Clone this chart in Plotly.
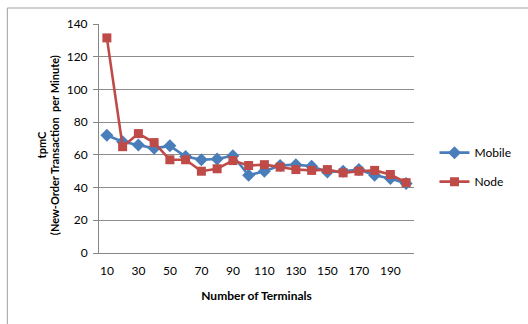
import plotly.graph_objects as go

# Throughput (tpmC) against number of terminals
terminals = [10, 20, 30, 40, 50, 60, 70, 80, 90, 100,
             110, 120, 130, 140, 150, 160, 170, 180, 190, 200]
mobile = [72, 68, 66, 64, 65.5, 59, 57, 57.5, 59.5, 47.5,
          50, 53.5, 54, 53, 49.5, 50, 51, 47.5, 45.5, 42.5]
node = [131.5, 65, 73, 67.5, 57, 57, 50, 51.5, 56.5, 53.5,
        54, 52.5, 51, 50.5, 51, 49, 50, 50.5, 48, 43]
x_ticks = [10, 30, 50, 70, 90, 110, 130, 150, 170, 190]
y_ticks = [0, 20, 40, 60, 80, 100, 120, 140]
y_title_lines = ["tpmC", "(New-Order Transaction\u00a0\u00a0per Minute)"]

FONT = "Lato, 'Liberation Sans', sans-serif"
BLUE = "#4A7EBB"
RED = "#BE4B48"

fig = go.Figure()
fig.add_trace(go.Scatter(
    x=terminals, y=mobile, name="Mobile", mode="lines+markers",
    legendgroup="m",
    line=dict(color=BLUE, width=2.6),
    marker=dict(symbol="diamond", size=10, color=BLUE),
))
fig.add_trace(go.Scatter(
    x=terminals, y=node, name="Node", mode="lines+markers",
    legendgroup="n",
    line=dict(color=RED, width=2.6),
    marker=dict(symbol="square", size=9, color=RED),
))

# Two-line rotated y-axis title, each line centred on the plot height
title_x_px = [40, 53]
annotations = [
    dict(
        text=f"<b>{line}</b>",
        xref="paper", yref="paper",
        x=(px - 99) / 323, y=(253 - 145) / 229,
        xanchor="center", yanchor="middle",
        textangle=-90, showarrow=False,
        font=dict(family=FONT, size=11),
    )
    for line, px in zip(y_title_lines, title_x_px)
]

fig.update_layout(
    width=528, height=324,
    margin=dict(l=99, r=106, t=24, b=71),
    paper_bgcolor="white", plot_bgcolor="white",
    font=dict(family=FONT, size=12, color="#000000"),
    showlegend=True,
    legend=dict(
        x=1.065, y=0.375, xanchor="left", yanchor="middle",
        font=dict(family=FONT, size=12, color="#000000"),
        tracegroupgap=10, itemwidth=30,
        bgcolor="rgba(0,0,0,0)",
    ),
    xaxis=dict(
        range=[5, 205], tickvals=x_ticks,
        showgrid=False, zeroline=False,
        showline=True, linecolor="#868686", linewidth=1,
        ticks="", ticklabelstandoff=7,
        tickfont=dict(family=FONT, size=12),
        title=dict(text="<b>Number of Terminals</b>",
                   font=dict(family=FONT, size=12), standoff=14),
    ),
    yaxis=dict(
        range=[0, 140], tickvals=y_ticks,
        showgrid=True, gridcolor="#8C8C8C", gridwidth=1,
        zeroline=False,
        showline=True, linecolor="#868686", linewidth=1,
        ticks="outside", ticklen=5, tickcolor="#868686",
        ticklabelstandoff=3,
        tickfont=dict(family=FONT, size=12),
    ),
    annotations=annotations,
    shapes=[dict(
        type="rect", xref="paper", yref="paper",
        x0=(5 - 99) / 323, x1=(540 - 99) / 323,
        y0=(253 - 340) / 229, y1=(253 - 8) / 229,
        line=dict(color="#A0A0A0", width=1),
        layer="below",
    )],
)

fig.write_html("out.html")
